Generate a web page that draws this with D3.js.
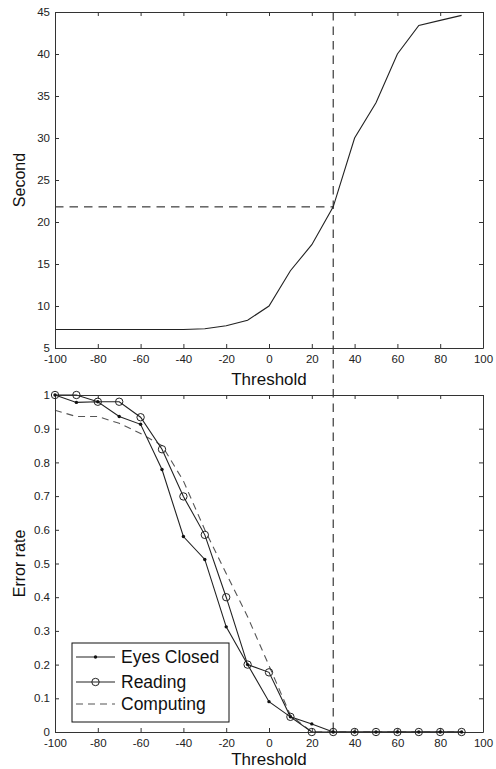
<!DOCTYPE html>
<html>
<head>
<meta charset="utf-8">
<script src="https://cdn.jsdelivr.net/npm/d3@7"></script>
<style>
body{margin:0;background:#fff;}
svg text{font-family:"Liberation Sans", Arial, sans-serif; fill:#111;}
.axis text{font-family:"Liberation Sans Narrow","Liberation Sans",Arial,sans-serif; font-size:11.5px; fill:#222;}
.axis path, .axis line{stroke:#333;}
</style>
</head>
<body>
<svg id="chart"></svg>
<script>
// threshold values shared by both panels
const thresholds = [-100, -90, -80, -70, -60, -50, -40, -30, -20, -10, 0, 10, 20, 30, 40, 50, 60, 70, 80, 90];

// top panel: time in seconds
const seconds = [7.2, 7.2, 7.2, 7.2, 7.2, 7.2, 7.2, 7.3, 7.65, 8.3, 10, 14.2, 17.3, 21.8, 30, 34.2, 40, 43.4, 44.0, 44.6];

// bottom panel: error rates
const eyesClosed = [1.0, 0.978, 0.98, 0.936, 0.913, 0.779, 0.58, 0.512, 0.312, 0.2, 0.09, 0.045, 0.024, 0, 0, 0, 0, 0, 0, 0];
const reading    = [1.0, 1.0, 0.98, 0.98, 0.934, 0.839, 0.699, 0.585, 0.4, 0.2, 0.177, 0.045, 0, 0, 0, 0, 0, 0, 0, 0];
const computing  = [0.955, 0.936, 0.936, 0.916, 0.886, 0.85, 0.745, 0.6, 0.47, 0.342, 0.197, 0.05, 0, 0, 0, 0, 0, 0, 0, 0];

const xTicks = [-100, -80, -60, -40, -20, 0, 20, 40, 60, 80, 100];
const secondTicks = [5, 10, 15, 20, 25, 30, 35, 40, 45];
const errorTicks = [0, 0.1, 0.2, 0.3, 0.4, 0.5, 0.6, 0.7, 0.8, 0.9, 1];

const seriesNames = ['Eyes Closed', 'Reading', 'Computing'];

// chosen operating point
const chosenThreshold = 30;
const chosenSecond = 21.8;

const width = 496, height = 769;
const left = 55, right = 483;

const svg = d3.select('#chart')
    .attr('width', width)
    .attr('height', height);

const xscale = d3.scaleLinear()
    .domain([-100, 100])
    .range([left, right]);

// plain hyphen instead of d3's unicode minus, like the original
const plain = d => String(d);

function drawFrame(yscale, yticks, yformat, ylabel, labelY){
    const top = yscale.range()[1];
    const bottom = yscale.range()[0];

    const g = svg.append('g').attr('class', 'axis');

    g.append('g')
        .attr('transform', `translate(0, ${bottom})`)
        .call(d3.axisBottom(xscale).tickValues(xTicks).tickSizeInner(-4).tickSizeOuter(0).tickPadding(7).tickFormat(plain));

    g.append('g')
        .attr('transform', `translate(0, ${top})`)
        .call(d3.axisTop(xscale).tickValues(xTicks).tickSizeInner(-4).tickSizeOuter(0).tickFormat(''));

    g.append('g')
        .attr('transform', `translate(${left}, 0)`)
        .call(d3.axisLeft(yscale).tickValues(yticks).tickSizeInner(-4).tickSizeOuter(0).tickPadding(5).tickFormat(yformat));

    g.append('g')
        .attr('transform', `translate(${right}, 0)`)
        .call(d3.axisRight(yscale).tickValues(yticks).tickSizeInner(-4).tickSizeOuter(0).tickFormat(''));

    svg.append('text')
        .attr('x', (left + right) / 2)
        .attr('y', labelY)
        .attr('text-anchor', 'middle')
        .style('font-size', '17px')
        .text('Threshold');

    svg.append('text')
        .attr('transform', `translate(25, ${(top + bottom) / 2}) rotate(-90)`)
        .attr('text-anchor', 'middle')
        .style('font-size', '16px')
        .text(ylabel);
}

// ---- top panel
const ysec = d3.scaleLinear()
    .domain([5, 45])
    .range([348, 12]);

// ---- bottom panel
const yerr = d3.scaleLinear()
    .domain([0, 1])
    .range([732, 395]);

// dashed guide lines
svg.append('line')
    .attr('x1', xscale(chosenThreshold)).attr('x2', xscale(chosenThreshold))
    .attr('y1', ysec(45)).attr('y2', yerr(0))
    .attr('stroke', '#111')
    .attr('stroke-dasharray', '8.5,6');

svg.append('line')
    .attr('x1', xscale(-100)).attr('x2', xscale(chosenThreshold))
    .attr('y1', ysec(chosenSecond)).attr('y2', ysec(chosenSecond))
    .attr('stroke', '#111')
    .attr('stroke-dasharray', '8.5,6');

const line = (ys, yscale) => d3.line()
    .x((d, i) => xscale(thresholds[i]))
    .y(d => yscale(d))(ys);

svg.append('path')
    .attr('d', line(seconds, ysec))
    .attr('fill', 'none')
    .attr('stroke', '#222')
    .attr('stroke-width', 1.1);

svg.append('path')
    .attr('d', line(computing, yerr))
    .attr('fill', 'none')
    .attr('stroke', '#555')
    .attr('stroke-width', 1.1)
    .attr('stroke-dasharray', '7,5');

svg.append('path')
    .attr('d', line(reading, yerr))
    .attr('fill', 'none')
    .attr('stroke', '#222')
    .attr('stroke-width', 1.1);

svg.append('path')
    .attr('d', line(eyesClosed, yerr))
    .attr('fill', 'none')
    .attr('stroke', '#222')
    .attr('stroke-width', 1.1);

drawFrame(ysec, secondTicks, plain, 'Second', 385);
drawFrame(yerr, errorTicks, d => (d === 0 || d === 1) ? String(d) : d3.format('.1f')(d), 'Error rate', 765);

// markers on top of axes
svg.append('g').selectAll('circle')
    .data(reading)
    .join('circle')
    .attr('cx', (d, i) => xscale(thresholds[i]))
    .attr('cy', d => yerr(d))
    .attr('r', 3.7)
    .attr('fill', 'none')
    .attr('stroke', '#222');

svg.append('g').selectAll('circle')
    .data(eyesClosed)
    .join('circle')
    .attr('cx', (d, i) => xscale(thresholds[i]))
    .attr('cy', d => yerr(d))
    .attr('r', 1.7)
    .attr('fill', '#111');

// legend
const legend = svg.append('g').attr('transform', 'translate(72, 643)');
legend.append('rect')
    .attr('width', 157).attr('height', 79)
    .attr('fill', '#fff')
    .attr('stroke', '#111');

const rows = [14, 39, 61];
seriesNames.forEach((name, i) => {
    const y = rows[i];
    legend.append('line')
        .attr('x1', 4).attr('x2', 43)
        .attr('y1', y).attr('y2', y)
        .attr('stroke', i === 2 ? '#555' : '#222')
        .attr('stroke-width', 1.1)
        .attr('stroke-dasharray', i === 2 ? '7,5' : null);
    if (i === 0) {
        legend.append('circle').attr('cx', 23.5).attr('cy', y).attr('r', 1.7).attr('fill', '#111');
    }
    if (i === 1) {
        legend.append('circle').attr('cx', 23.5).attr('cy', y).attr('r', 3.7).attr('fill', 'none').attr('stroke', '#222');
    }
    legend.append('text')
        .attr('x', 49)
        .attr('y', y)
        .attr('dy', '0.36em')
        .style('font-size', '17.5px')
        .text(name);
});
</script>
</body>
</html>
